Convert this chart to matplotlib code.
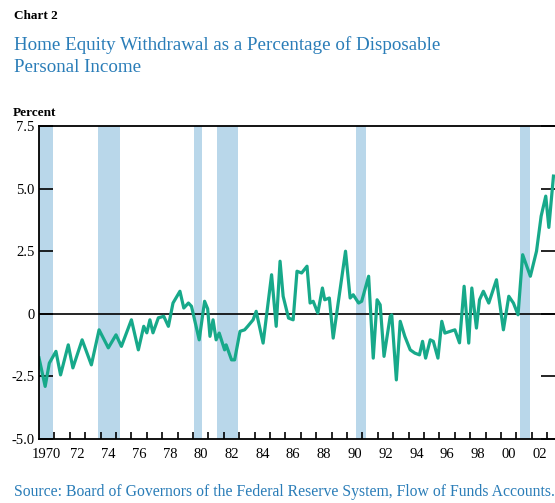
import numpy as np
import matplotlib.pyplot as plt

# data (decimal year, percent)
years = [1970.0, 1970.4, 1970.67, 1971.1, 1971.4, 1971.9, 1972.2, 1972.8, 1973.4, 1973.9,
         1974.5, 1975.0, 1975.35, 1976.0, 1976.45, 1976.8, 1977.0, 1977.2, 1977.4, 1977.75,
         1978.1, 1978.4, 1978.7, 1979.15, 1979.4, 1979.7, 1979.9, 1980.4, 1980.75, 1980.95,
         1981.1, 1981.3, 1981.5, 1981.7, 1982.05, 1982.15, 1982.5, 1982.7, 1983.05, 1983.35,
         1983.55, 1983.9, 1984.1, 1984.55, 1985.1, 1985.4, 1985.65, 1985.85, 1986.2, 1986.5,
         1986.75, 1987.05, 1987.4, 1987.6, 1987.8, 1988.1, 1988.4, 1988.55, 1988.85, 1989.1,
         1989.3, 1989.9, 1990.2, 1990.4, 1990.75, 1990.95, 1991.4, 1991.7, 1991.95, 1992.15,
         1992.4, 1992.8, 1992.9, 1993.2, 1993.45, 1993.75, 1994.1, 1994.4, 1994.7, 1994.9,
         1995.1, 1995.4, 1995.6, 1995.9, 1996.15, 1996.35, 1996.7, 1997.0, 1997.3, 1997.6,
         1997.9, 1998.1, 1998.4, 1998.6, 1998.85, 1999.2, 1999.7, 2000.15, 2000.5, 2000.8,
         2001.1, 2001.4, 2001.9, 2002.3, 2002.6, 2002.9, 2003.1, 2003.4]
withdrawal = [-1.76, -2.9, -1.97, -1.5, -2.44, -1.24, -2.16, -1.04, -2.04, -0.64,
              -1.36, -0.84, -1.3, -0.24, -1.44, -0.5, -0.76, -0.24, -0.76, -0.16,
              -0.1, -0.5, 0.43, 0.9, 0.23, 0.43, 0.3, -1.04, 0.5, 0.2,
              -0.9, -0.24, -1.04, -0.77, -1.44, -1.24, -1.84, -1.84, -0.7, -0.64,
              -0.5, -0.24, 0.1, -1.17, 1.56, -0.5, 2.1, 0.7, -0.17, -0.24,
              1.7, 1.63, 1.9, 0.43, 0.5, 0.03, 1.03, 0.56, 0.63, -0.97,
              -0.1, 2.5, 0.63, 0.76, 0.43, 0.5, 1.5, -1.77, 0.56, 0.36,
              -1.7, -0.1, -0.04, -2.64, -0.3, -0.9, -1.44, -1.57, -1.64, -1.1,
              -1.77, -1.04, -1.1, -1.77, -0.3, -0.77, -0.7, -0.64, -1.16, 1.1,
              -1.17, 1.03, -0.57, 0.56, 0.9, 0.43, 1.36, -0.64, 0.7, 0.43,
              -0.04, 2.36, 1.5, 2.5, 3.9, 4.7, 3.45, 5.5]

# recessions (start, end)
rec_start = [1969.95, 1973.85, 1980.05, 1981.55, 1990.55, 2001.2]
rec_end = [1970.9, 1975.25, 1980.55, 1982.9, 1991.2, 2001.9]

yticks = [-5.0, -2.5, 0, 2.5, 5.0, 7.5]
ytick_labels = ['-5.0', '-2.5', '0', '2.5', '5.0', '7.5']
xlabel_years = list(range(1970, 2003, 2))
xlabels = ['1970'] + ['%02d' % (y % 100) for y in xlabel_years[1:]]

blue = '#2a7db8'
teal = '#17a98a'
shade = '#b9d7ea'
plt.rcParams['font.family'] = ['Liberation Serif', 'DejaVu Serif']

fig = plt.figure(figsize=(5.55, 5.03), dpi=100)
ax = fig.add_axes([39 / 555, 1 - 439 / 503, 1 - 39 / 555, (439 - 126) / 503])

for s, e in zip(rec_start, rec_end):
    ax.axvspan(s, e, color=shade, lw=0, zorder=0)
ax.axhline(0, color='black', lw=1.2, zorder=1)
ax.plot(years, withdrawal, color=teal, lw=2.3, zorder=2)

ax.set_xlim(1970, 2003.5)
ax.set_ylim(-5.0, 7.5)

ax.spines['right'].set_visible(False)
for s in ['left', 'top', 'bottom']:
    ax.spines[s].set_linewidth(1.3)

ax.set_yticks(yticks)
ax.set_yticklabels(ytick_labels, fontsize=10.5)
ax.tick_params(axis='y', direction='in', length=10, width=1.2, right=True, pad=3)

ax.set_xticks(np.arange(1971, 2004))
ax.set_xticklabels([])
ax.tick_params(axis='x', direction='in', length=5, width=1.2)
for y, lab in zip(xlabel_years, xlabels):
    ax.text(y + 0.5, -5.35, lab, ha='center', va='top', fontsize=10.5)

fig.text(14 / 555, 1 - 16 / 503, 'Chart 2', fontsize=9.5, fontweight='bold', va='center')
fig.text(14 / 555, 1 - 45 / 503, 'Home Equity Withdrawal as a Percentage of Disposable',
         fontsize=13.7, color=blue, va='center')
fig.text(14 / 555, 1 - 68 / 503, 'Personal Income', fontsize=13.7, color=blue, va='center')
fig.text(13 / 555, 1 - 113 / 503, 'Percent', fontsize=9.5, fontweight='bold', va='center')
fig.text(14 / 555, 1 - 492 / 503,
         'Source: Board of Governors of the Federal Reserve System, Flow of Funds Accounts.',
         fontsize=11.3, color=blue, va='center')

fig.savefig('out.png', dpi=100)
